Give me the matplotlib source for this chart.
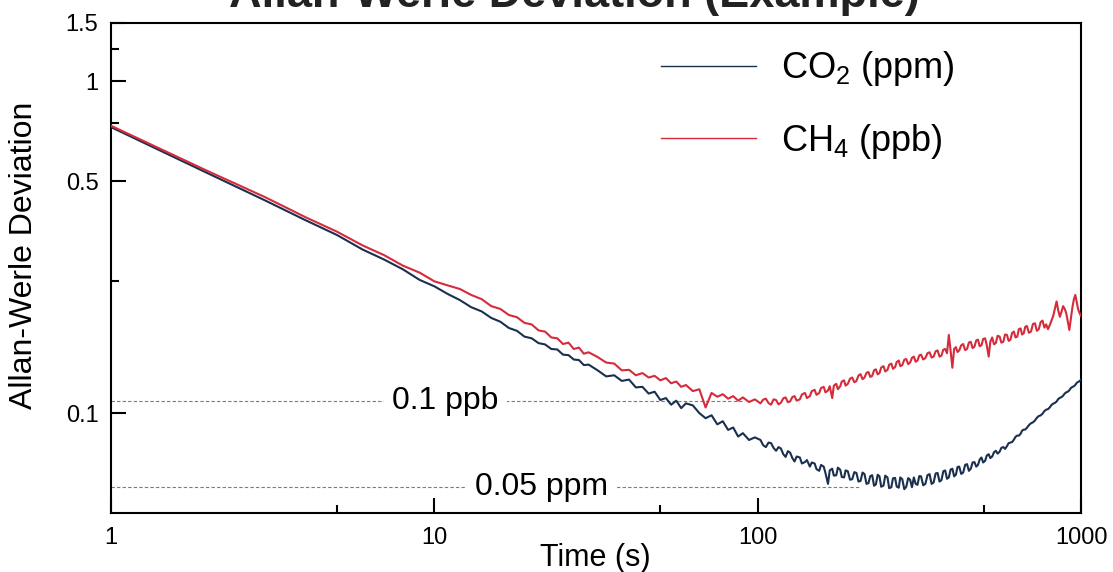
import matplotlib
matplotlib.use("Agg")
import matplotlib.pyplot as plt
from matplotlib.lines import Line2D
from matplotlib.ticker import FixedLocator, FixedFormatter, NullFormatter

plt.rcParams['font.family'] = ['Liberation Sans', 'DejaVu Sans']
plt.rcParams['mathtext.fontset'] = 'custom'
plt.rcParams['mathtext.rm'] = 'Liberation Sans'
plt.rcParams['mathtext.it'] = 'Liberation Sans:italic'

# averaging time (s), short taus
tau_fast = [1, 2, 3, 4, 5, 6, 7, 8, 9, 10,
            11, 12, 13, 14, 15, 16, 17, 18, 19, 20,
            21, 22, 23, 24, 25, 26, 27, 28, 29, 30,
            32, 34, 36, 38, 40, 42, 44, 46, 48, 50,
            52, 54, 56, 58, 60, 63, 66, 69, 72, 75,
            78, 81, 84, 87, 90, 94, 98]

co2_fast = [0.727, 0.527, 0.437, 0.381, 0.344, 0.311, 0.290, 0.271, 0.252, 0.241,
            0.2285, 0.219, 0.2085, 0.2025, 0.1935, 0.1885, 0.1805, 0.1770, 0.1700, 0.1680,
            0.1625, 0.1610, 0.1560, 0.1555, 0.1500, 0.1495, 0.1450, 0.1445, 0.1395, 0.1400,
            0.1345, 0.1290, 0.1300, 0.1250, 0.1262, 0.1195, 0.1200, 0.1145, 0.1160, 0.1095,
            0.1110, 0.1060, 0.1090, 0.1035, 0.1070, 0.1055, 0.1000, 0.0965, 0.0985, 0.0925,
            0.0945, 0.0890, 0.0905, 0.0850, 0.0870, 0.0830, 0.0845]

ch4_fast = [0.734, 0.535, 0.447, 0.389, 0.352, 0.320, 0.299, 0.278, 0.265, 0.2495,
            0.2425, 0.2365, 0.2270, 0.2205, 0.2100, 0.2060, 0.1975, 0.1945, 0.1870, 0.1850,
            0.1775, 0.1760, 0.1690, 0.1680, 0.1615, 0.1630, 0.1560, 0.1575, 0.1510, 0.1525,
            0.1475, 0.1420, 0.1410, 0.1345, 0.1350, 0.1300, 0.1320, 0.1280, 0.1295, 0.1255,
            0.1275, 0.1230, 0.1245, 0.1200, 0.1215, 0.1165, 0.1180, 0.1040, 0.1150, 0.1120,
            0.1140, 0.1105, 0.1125, 0.1090, 0.1115, 0.1080, 0.1100]

# averaging time (s), long taus
tau_slow = [102, 104, 106, 108, 110, 112, 114, 116, 118, 120,
            122, 124, 126, 128, 130, 132, 135, 137, 140, 142,
            145, 147, 150, 152, 155, 157, 160, 162, 165, 167,
            170, 172, 175, 177, 180, 182, 185, 187, 190, 193,
            196, 199, 202, 205, 208, 211, 214, 217, 220, 223,
            226, 229, 232, 235, 238, 241, 245, 248, 252, 255,
            259, 262, 266, 269, 273, 276, 280, 284, 288, 292,
            296, 300, 304, 308, 312, 316, 320, 325, 330, 335,
            340, 345, 350, 355, 360, 365, 370, 375, 380, 385,
            390, 395, 400, 405, 410, 415, 420, 426, 432, 438,
            444, 450, 456, 462, 468, 474, 480, 486, 492, 498,
            505, 511, 518, 524, 531, 538, 545, 552, 560, 567,
            575, 582, 590, 597, 605, 612, 620, 627, 635, 642,
            650, 657, 665, 672, 680, 690, 700, 710, 720, 730,
            740, 750, 760, 770, 780, 790, 800, 810, 820, 830,
            840, 850, 860, 870, 880, 890, 900, 910, 920, 930,
            940, 950, 960, 970, 980, 990, 1000]

co2_slow = [0.0830, 0.0800, 0.0790, 0.0815, 0.0812, 0.0785, 0.0770, 0.0790, 0.0782, 0.0752,
            0.0738, 0.0768, 0.0760, 0.0732, 0.0715, 0.0740, 0.0735, 0.0705, 0.0712, 0.0722,
            0.0690, 0.0710, 0.0705, 0.0678, 0.0670, 0.0698, 0.0690, 0.0660, 0.0612, 0.0672,
            0.0680, 0.0648, 0.0650, 0.0685, 0.0675, 0.0642, 0.0640, 0.0672, 0.0668, 0.0630,
            0.0632, 0.0664, 0.0660, 0.0622, 0.0625, 0.0662, 0.0655, 0.0612, 0.0615, 0.0646,
            0.0650, 0.0604, 0.0610, 0.0652, 0.0645, 0.0600, 0.0605, 0.0648, 0.0640, 0.0594,
            0.0598, 0.0636, 0.0638, 0.0601, 0.0596, 0.0640, 0.0632, 0.0590, 0.0600, 0.0637,
            0.0630, 0.0598, 0.0640, 0.0612, 0.0608, 0.0646, 0.0645, 0.0606, 0.0612, 0.0650,
            0.0655, 0.0612, 0.0618, 0.0658, 0.0660, 0.0622, 0.0628, 0.0668, 0.0672, 0.0634,
            0.0640, 0.0676, 0.0680, 0.0645, 0.0652, 0.0688, 0.0690, 0.0656, 0.0662, 0.0698,
            0.0702, 0.0670, 0.0680, 0.0710, 0.0712, 0.0690, 0.0698, 0.0725, 0.0735, 0.0710,
            0.0718, 0.0745, 0.0752, 0.0732, 0.0740, 0.0762, 0.0770, 0.0755, 0.0765, 0.0786,
            0.0790, 0.0780, 0.0795, 0.0812, 0.0815, 0.0818, 0.0832, 0.0848, 0.0856, 0.0855,
            0.0866, 0.0885, 0.0892, 0.0892, 0.0903, 0.0920, 0.0932, 0.0938, 0.0950, 0.0968,
            0.0980, 0.0984, 0.0996, 0.1014, 0.1024, 0.1028, 0.1040, 0.1058, 0.1068, 0.1073,
            0.1084, 0.1102, 0.1112, 0.1117, 0.1128, 0.1145, 0.1155, 0.1160, 0.1172, 0.1190,
            0.1199, 0.1204, 0.1216, 0.1234, 0.1242, 0.1248, 0.1262]

ch4_slow = [0.1070, 0.1098, 0.1105, 0.1072, 0.1060, 0.1100, 0.1095, 0.1062, 0.1075, 0.1108,
            0.1115, 0.1078, 0.1085, 0.1118, 0.1125, 0.1090, 0.1100, 0.1138, 0.1150, 0.1110,
            0.1125, 0.1165, 0.1175, 0.1135, 0.1150, 0.1190, 0.1200, 0.1155, 0.1170, 0.1205,
            0.1110, 0.1210, 0.1225, 0.1180, 0.1205, 0.1245, 0.1255, 0.1210, 0.1225, 0.1270,
            0.1280, 0.1238, 0.1250, 0.1298, 0.1310, 0.1265, 0.1280, 0.1322, 0.1330, 0.1285,
            0.1295, 0.1345, 0.1355, 0.1308, 0.1320, 0.1372, 0.1385, 0.1335, 0.1350, 0.1398,
            0.1410, 0.1360, 0.1375, 0.1425, 0.1440, 0.1385, 0.1395, 0.1448, 0.1455, 0.1405,
            0.1420, 0.1468, 0.1480, 0.1428, 0.1440, 0.1492, 0.1500, 0.1450, 0.1465, 0.1515,
            0.1525, 0.1470, 0.1480, 0.1535, 0.1545, 0.1480, 0.1490, 0.1552, 0.1560, 0.1515,
            0.1720, 0.1540, 0.1370, 0.1560, 0.1580, 0.1528, 0.1545, 0.1600, 0.1615, 0.1548,
            0.1560, 0.1632, 0.1640, 0.1570, 0.1585, 0.1655, 0.1665, 0.1590, 0.1600, 0.1672,
            0.1680, 0.1600, 0.1480, 0.1640, 0.1690, 0.1612, 0.1625, 0.1710, 0.1700, 0.1630,
            0.1640, 0.1725, 0.1720, 0.1650, 0.1665, 0.1745, 0.1760, 0.1690, 0.1700, 0.1790,
            0.1800, 0.1725, 0.1740, 0.1820, 0.1830, 0.1745, 0.1760, 0.1855, 0.1865, 0.1770,
            0.1790, 0.1880, 0.1900, 0.1810, 0.1850, 0.1790, 0.1840, 0.1900, 0.1960, 0.2060,
            0.2170, 0.2040, 0.1950, 0.2020, 0.2100, 0.2060, 0.2000, 0.1890, 0.1780, 0.1920,
            0.2080, 0.2200, 0.2270, 0.2160, 0.2050, 0.2000, 0.1960]

tau = tau_fast + tau_slow
co2 = co2_fast + co2_slow
ch4 = ch4_fast + ch4_slow

# reference levels
ref_vals = [0.109, 0.060]
ref_labels = ["0.1 ppb", "0.05 ppm"]
ref_label_x = [10.8, 21.4]
ref_end_x = [90, 205]

x_ticks = [1, 10, 100, 1000]
x_ticklabels = ["1", "10", "100", "1000"]
x_minor = [5, 50, 500]
y_ticks = [0.1, 0.5, 1, 1.5]
y_ticklabels = ["0.1", "0.5", "1", "1.5"]
y_minor = [0.25, 0.75, 1.25]

navy = "#1b2f4f"
red = "#d62b3b"

fig = plt.figure(figsize=(11.13, 5.72), dpi=100)
ax = fig.add_axes([0.0997, 0.1031, 0.8716, 0.8572])

for val, lab, lx, ex in zip(ref_vals, ref_labels, ref_label_x, ref_end_x):
    ax.plot([1, ex], [val, val], color="#7a7a7a", lw=0.8, ls=(0, (3, 2)), zorder=1)
    ax.text(lx, val, lab, fontsize=23, ha="center", va="center", zorder=3,
            bbox=dict(facecolor="white", edgecolor="none", pad=6))

ax.plot(tau, co2, color=navy, lw=1.5, zorder=4)
ax.plot(tau, ch4, color=red, lw=1.5, zorder=4)

ax.set_xscale("log")
ax.set_yscale("log")
ax.set_xlim(1, 1000)
ax.set_ylim(0.05, 1.5)

ax.xaxis.set_major_locator(FixedLocator(x_ticks))
ax.xaxis.set_major_formatter(FixedFormatter(x_ticklabels))
ax.xaxis.set_minor_locator(FixedLocator(x_minor))
ax.xaxis.set_minor_formatter(NullFormatter())
ax.yaxis.set_major_locator(FixedLocator(y_ticks))
ax.yaxis.set_major_formatter(FixedFormatter(y_ticklabels))
ax.yaxis.set_minor_locator(FixedLocator(y_minor))
ax.yaxis.set_minor_formatter(NullFormatter())

ax.tick_params(which="both", direction="in", width=1.5, labelsize=17, colors="black")
ax.tick_params(which="major", length=10.5)
ax.tick_params(which="minor", length=6)
ax.tick_params(axis="x", which="major", pad=10)
ax.tick_params(axis="y", which="major", pad=9)
for s in ax.spines.values():
    s.set_linewidth(1.5)

handles = [Line2D([], [], color=navy, lw=1.0), Line2D([], [], color=red, lw=1.0)]
ax.legend(handles, [r"CO$_\mathregular{2}$ (ppm)", r"CH$_\mathregular{4}$ (ppb)"],
          loc="upper left", bbox_to_anchor=(0.567, 0.946), frameon=False,
          fontsize=26, handlelength=2.63, handletextpad=0.69, labelspacing=0.94,
          borderpad=0, borderaxespad=0)

fig.text(24 / 1113, 1 - 255 / 572, "Allan-Werle Deviation", rotation=90,
         fontsize=23, ha="center", va="center")
fig.text(595 / 1113, 1 - 558 / 572, "Time (s)", fontsize=22, ha="center", va="center")
# title is partly outside the canvas, as in the original
fig.text(574 / 1113, 1 - 7 / 572, "Allan-Werle Deviation (Example)", fontsize=32.5,
         fontweight="bold", color="#222222", ha="center", va="baseline")

fig.savefig("out.png", dpi=100)
